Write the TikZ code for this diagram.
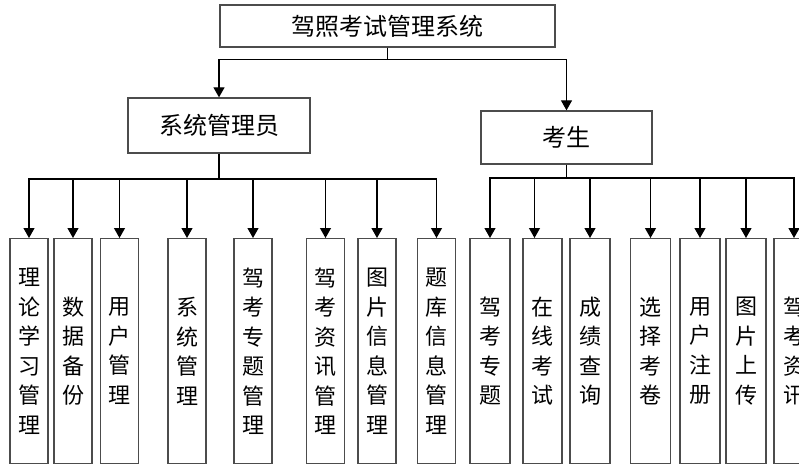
\documentclass[tikz,border=0pt]{standalone}
\usepackage{fontspec}
\newfontfamily\cjk{Noto Sans CJK SC}
\usetikzlibrary{arrows.meta}

\begin{document}
\begin{tikzpicture}[x=1pt,y=-1pt,
    box/.style={draw=black!70,line width=1.3pt,inner sep=0pt},
    headbox/.style={box,font={\cjk\fontsize{24}{28}\selectfont}},
    leaf/.style={box,anchor=north,minimum width=38pt,minimum height=225pt,
        align=center,font={\cjk\fontsize{22}{29.5}\selectfont}},
    sleaf/.style={leaf,minimum width=40pt},
    arr/.style={line width=1.2pt,-{Triangle[width=11pt,length=10pt]}},
    conn/.style={line width=1.2pt}]
    \clip (0,0) rectangle (799,470);
    %
    \node[headbox,minimum width=335pt,minimum height=42pt] (sys) at (387.5,26) {驾照考试管理系统};
    \node[headbox,minimum width=182pt,minimum height=55pt] (admin) at (219,125.5) {系统管理员};
    \node[headbox,minimum width=171pt,minimum height=53pt] (stu) at (566.5,137.5) {考生};
    %
    \draw[arr] (sys.south) -- ++(0,12) -| (admin.north);
    \draw[arr] (sys.south) -- ++(0,12) -| (stu.north);
    %
    % administrator functions
    \node[leaf] (a1) at (29,238) {理\\论\\学\\习\\管\\理};
    \node[leaf] (a2) at (73,238) {数\\据\\备\\份};
    \node[leaf] (a3) at (119.5,238) {用\\户\\管\\理};
    \node[leaf] (a4) at (187,238) {系\\统\\管\\理};
    \node[leaf] (a5) at (253,238) {驾\\考\\专\\题\\管\\理};
    \node[leaf] (a6) at (325.5,238) {驾\\考\\资\\讯\\管\\理};
    \node[leaf] (a7) at (377,238) {图\\片\\信\\息\\管\\理};
    \node[leaf] (a8) at (436.5,238) {题\\库\\信\\息\\管\\理};
    %
    \coordinate (abus) at (admin.south |- 0,179);
    \draw[conn] (admin.south) -- (abus);
    \draw[arr] (abus) -| (a1.north);
    \draw[arr] (abus) -| (a2.north);
    \draw[arr] (abus) -| (a3.north);
    \draw[arr] (abus) -| (a4.north);
    \draw[arr] (abus) -| (a5.north);
    \draw[arr] (abus) -| (a6.north);
    \draw[arr] (abus) -| (a7.north);
    \draw[arr] (abus) -| (a8.north);
    %
    % student functions
    \node[sleaf] (s1) at (490,238) {驾\\考\\专\\题};
    \node[sleaf,minimum width=39pt] (s2) at (542.5,238) {在\\线\\考\\试};
    \node[sleaf] (s3) at (590,238) {成\\绩\\查\\询};
    \node[sleaf] (s4) at (650.5,238) {选\\择\\考\\卷};
    \node[sleaf] (s5) at (700,238) {用\\户\\注\\册};
    \node[sleaf] (s6) at (746,238) {图\\片\\上\\传};
    \node[sleaf] (s7) at (794,238) {驾\\考\\资\\讯};
    %
    \coordinate (sbus) at (stu.south |- 0,178);
    \draw[conn] (stu.south) -- (sbus);
    \draw[arr] (sbus) -| (s1.north);
    \draw[arr] (sbus) -| ([xshift=-8pt]s2.north);
    \draw[arr] (sbus) -| (s3.north);
    \draw[arr] (sbus) -| (s4.north);
    \draw[arr] (sbus) -| (s5.north);
    \draw[arr] (sbus) -| (s6.north);
    \draw[arr] (sbus) -| (s7.north);
    %
\end{tikzpicture}
\end{document}
